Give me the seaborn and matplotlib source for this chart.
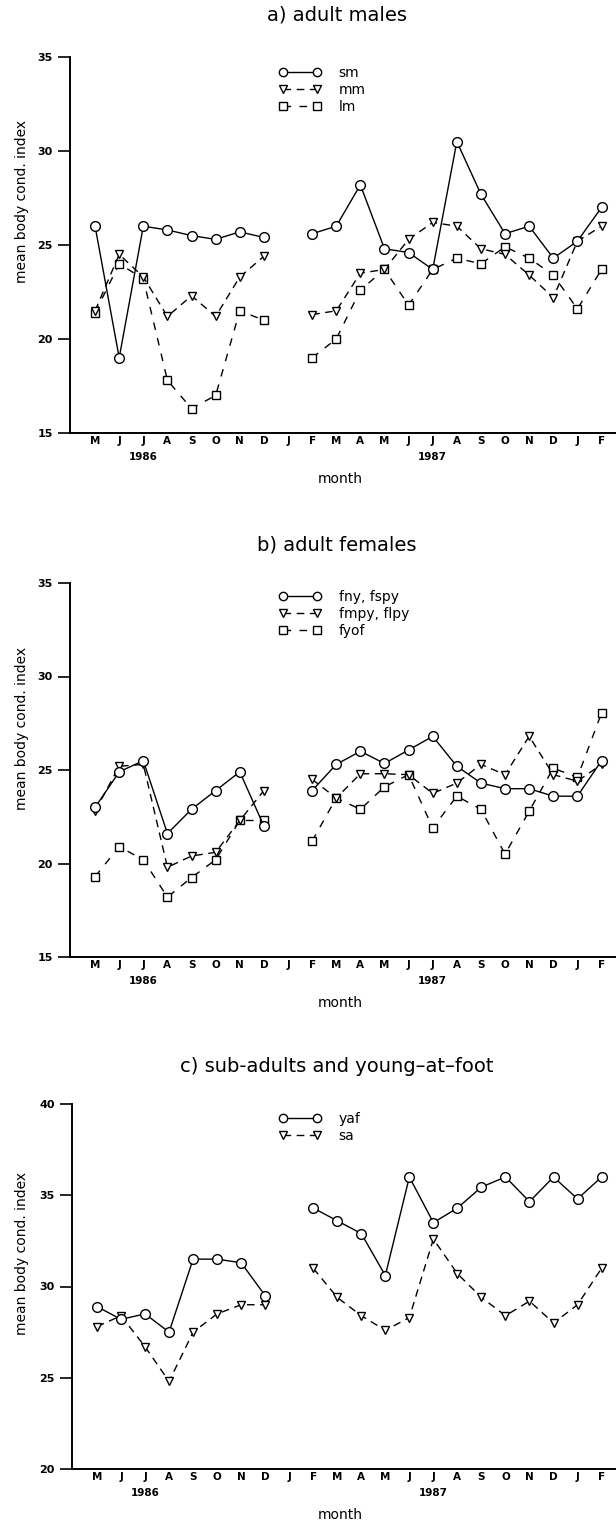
import numpy as np
import pandas as pd
import matplotlib
matplotlib.use("Agg")
import matplotlib.pyplot as plt
from matplotlib.lines import Line2D
import seaborn as sns

nan = np.nan
months = ['M', 'J', 'J', 'A', 'S', 'O', 'N', 'D', 'J', 'F', 'M',
          'A', 'M', 'J', 'J', 'A', 'S', 'O', 'N', 'D', 'J', 'F']
year_labels = ['1986', '1987']
year_tick_index = [2, 14]

# a) adult males
sm = [26.0, 19.0, 26.0, 25.8, 25.5, 25.3, 25.7, 25.4, nan, 25.6, 26.0,
      28.2, 24.8, 24.6, 23.7, 30.5, 27.7, 25.6, 26.0, 24.3, 25.2, 27.0]
mm = [21.5, 24.5, 23.3, 21.2, 22.3, 21.2, 23.3, 24.4, nan, 21.3, 21.5,
      23.5, 23.7, 25.3, 26.2, 26.0, 24.8, 24.5, 23.4, 22.2, 25.2, 26.0]
lm = [21.4, 24.0, 23.2, 17.8, 16.3, 17.0, 21.5, 21.0, nan, 19.0, 20.0,
      22.6, 23.7, 21.8, 23.7, 24.3, 24.0, 24.9, 24.3, 23.4, 21.6, 23.7]

# b) adult females
fny = [23.0, 24.9, 25.5, 21.6, 22.9, 23.9, 24.9, 22.0, nan, 23.9, 25.3,
       26.0, 25.35, 26.07, 26.8, 25.2, 24.3, 24.0, 24.0, 23.6, 23.6, 25.5]
fmpy = [22.8, 25.2, 25.3, 19.8, 20.4, 20.6, 22.3, 23.9, nan, 24.5, 23.5,
        24.8, 24.8, 24.75, 23.75, 24.3, 25.3, 24.75, 26.8, 24.75, 24.4, 25.3]
fyof = [19.3, 20.9, 20.2, 18.2, 19.25, 20.2, 22.3, 22.3, nan, 21.2, 23.5,
        22.9, 24.1, 24.75, 21.9, 23.6, 22.9, 20.5, 22.8, 25.1, 24.6, 28.05]

# c) sub-adults and young-at-foot
yaf = [28.9, 28.2, 28.5, 27.5, 31.5, 31.5, 31.3, 29.5, nan, 34.3, 33.6,
       32.9, 30.6, 36.0, 33.5, 34.3, 35.45, 36.0, 34.65, 36.0, 34.8, 36.0]
sa = [27.8, 28.4, 26.7, 24.8, 27.5, 28.5, 29.0, 29.0, nan, 31.0, 29.4,
      28.4, 27.6, 28.3, 32.6, 30.7, 29.4, 28.4, 29.2, 28.0, 29.0, 31.0]

panels = [
    dict(title='a) adult males', series={'sm': sm, 'mm': mm, 'lm': lm},
         ylim=(15, 35), yticks=[15, 20, 25, 30, 35]),
    dict(title='b) adult females',
         series={'fny, fspy': fny, 'fmpy, flpy': fmpy, 'fyof': fyof},
         ylim=(15, 35), yticks=[15, 20, 25, 30, 35]),
    dict(title='c) sub-adults and young\u2013at\u2013foot',
         series={'yaf': yaf, 'sa': sa},
         ylim=(20, 40), yticks=[20, 25, 30, 35, 40]),
]

sns.set_style("ticks")
plt.rcParams['font.family'] = ['DejaVu Sans']
for key in ['text.color', 'axes.labelcolor', 'xtick.color', 'ytick.color',
            'axes.edgecolor']:
    plt.rcParams[key] = 'black'

W, H = 616, 1537
fig = plt.figure(figsize=(W / 100, H / 100), dpi=100)

# pixel geometry: (left, top, right, bottom)
geoms = [(70, 57, 616, 433), (70, 583, 616, 957), (72, 1104, 616, 1469)]
title_y = [15, 545, 1066]
ylabel_y = [0.617, 0.61, 0.59]
legend_top = [66, 590, 1112]

marker_cycle = ['o', 'v', 's']
dash_cycle = ['', (5.5, 4.0), (5.5, 6.0)]

x_idx = np.arange(len(months))
segment = np.where(x_idx < 8, 0, 1)

for p, g, ty, yly, lt in zip(panels, geoms, title_y, ylabel_y, legend_top):
    l, t, r, b = g
    ax = fig.add_axes([l / W, 1 - b / H, (r - l) / W, (b - t) / H])
    names = list(p['series'].keys())
    rows = []
    for name in names:
        for i, v in enumerate(p['series'][name]):
            rows.append(dict(month=i, value=v, series=name, seg=segment[i]))
    df = pd.DataFrame(rows).dropna()

    markers = {n: marker_cycle[k] for k, n in enumerate(names)}
    dashes = {n: dash_cycle[k] for k, n in enumerate(names)}
    # draw later series first so circles stay on top
    for k in reversed(range(len(names))):
        n = names[k]
        sub = df[df.series == n]
        sns.lineplot(data=sub, x='month', y='value', units='seg',
                     estimator=None, ax=ax, color='black', lw=1.0,
                     marker=markers[n], dashes=False,
                     markersize=7 if markers[n] == 'o' else 6.3,
                     markerfacecolor='white', markeredgecolor='black',
                     markeredgewidth=1.0, legend=False, sort=False)
        if dashes[n]:
            for line in ax.get_lines()[-2:]:
                line.set_dashes(dashes[n])

    ax.set_xlim(-1.04, 21.6)
    ax.set_ylim(*p['ylim'])
    ax.set_yticks(p['yticks'])
    ax.set_xticks(x_idx)
    ax.set_xticklabels(months, fontsize=7.5, fontweight='bold')
    ax.set_yticklabels([str(v) for v in p['yticks']], fontsize=8,
                       fontweight='bold')
    ax.tick_params(axis='x', length=0, pad=2.5)
    ax.tick_params(axis='y', length=8.5, width=1.2, direction='out', pad=4)
    for s in ['top', 'right']:
        ax.spines[s].set_visible(False)
    for s in ['left', 'bottom']:
        ax.spines[s].set_linewidth(1.4)
    ax.grid(False)

    for yl, yi in zip(year_labels, year_tick_index):
        ax.annotate(yl, xy=(yi, 0), xycoords=('data', 'axes fraction'),
                    xytext=(0, -17), textcoords='offset points',
                    ha='center', va='center', fontsize=7.5,
                    fontweight='bold')

    ax.set_xlabel('month', fontsize=10)
    ax.xaxis.set_label_coords((340 - l) / (r - l), -39 / (b - t))
    ax.set_ylabel('mean body cond. index', fontsize=10)
    ax.yaxis.set_label_coords((29 - l) / (r - l), yly)

    fig.text(337 / W, 1 - ty / H, p['title'], ha='center', va='center',
             fontsize=14)

    handles = [Line2D([0], [0], color='black', lw=1.0, marker=markers[n],
                      markersize=6, markerfacecolor='white',
                      markeredgecolor='black',
                      linestyle='-' if not dashes[n] else (0, dashes[n]))
               for n in names]
    ax.legend(handles, names, numpoints=2, frameon=False,
              loc='upper left',
              bbox_to_anchor=((279 - l) / (r - l), 1 - (lt - t) / (b - t)),
              borderaxespad=0, borderpad=0, handlelength=3.0,
              handletextpad=1.3, labelspacing=0.2, fontsize=10)

fig.savefig('out.png', dpi=100)
